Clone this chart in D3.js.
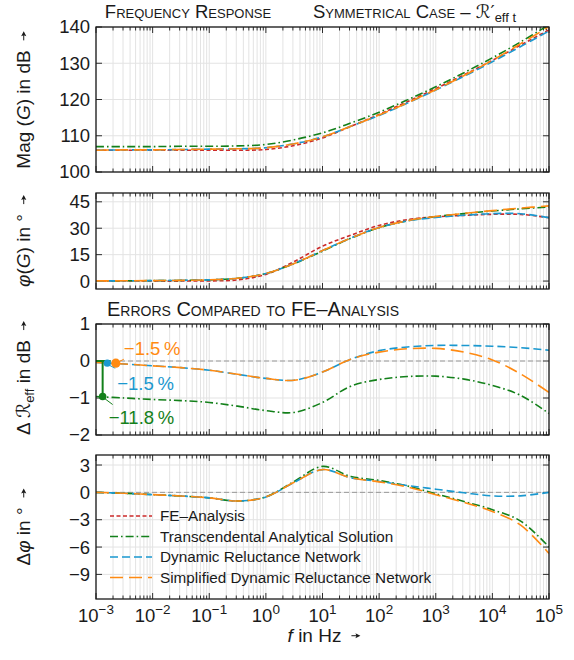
<!DOCTYPE html>
<html>
<head>
<meta charset="utf-8">
<script src="https://cdn.jsdelivr.net/npm/d3@7"></script>
<style>
  body { margin: 0; background: #fff; }
  svg { display: block; }
  text { font-family: "Liberation Sans", Arial, sans-serif; fill: #1a1a1a; }
  .sc { font-variant: small-caps; }
</style>
</head>
<body>
<div id="chart"></div>
<script>
// frequency grid, exponent of 10 (Hz)
var freqExp = [-3, -2.5, -2, -1.5, -1, -0.5, 0, 0.5, 1, 1.5, 2, 2.5, 3, 3.5, 4, 4.5, 5];

// magnitude in dB
var magFE   = [106.0, 106.0, 106.0, 106.0, 106.0, 106.0, 106.2, 107.3, 109.4, 112.6, 115.9, 119.4, 123.0, 126.8, 130.8, 135.0, 139.2];
var magTAS  = [107.0, 107.0, 107.0, 107.1, 107.1, 107.2, 107.6, 108.9, 110.8, 113.5, 116.5, 119.9, 123.5, 127.4, 131.5, 135.9, 140.6];
var magDRN  = [106.0, 106.1, 106.1, 106.2, 106.3, 106.4, 106.7, 107.8, 109.7, 112.6, 115.6, 119.0, 122.6, 126.4, 130.4, 134.6, 138.9];
var magSDRN = [106.0, 106.1, 106.1, 106.2, 106.3, 106.4, 106.7, 107.8, 109.7, 112.6, 115.7, 119.1, 122.7, 126.6, 130.8, 135.4, 140.1];

// phase in degree
var phFE   = [0.1, 0.05, 0.0, 0.0, 0.1, 0.65, 3.8, 11.1, 19.8, 26.05, 31.6, 34.9, 36.45, 37.3, 37.9, 37.85, 36.0];
var phTAS  = [0.1, 0.15, 0.25, 0.4, 0.7, 1.6, 4.3, 9.9, 17.0, 24.3, 30.3, 34.2, 36.6, 38.3, 39.8, 41.0, 42.0];
var phDRN  = [0.1, 0.15, 0.25, 0.4, 0.7, 1.6, 4.3, 10.0, 17.35, 24.45, 30.4, 34.15, 36.1, 37.35, 38.28, 38.23, 36.0];
var phSDRN = [0.1, 0.15, 0.25, 0.4, 0.7, 1.6, 4.3, 10.0, 17.35, 24.45, 30.45, 34.3, 36.7, 38.4, 40.0, 41.45, 42.7];

// error of effective reluctance in dB
var dRTAS  = [-0.96, -1.0, -1.04, -1.07, -1.12, -1.22, -1.34, -1.39, -1.12, -0.68, -0.5, -0.42, -0.41, -0.49, -0.66, -0.93, -1.42];
var dRDRN  = [-0.04, -0.08, -0.13, -0.18, -0.25, -0.36, -0.47, -0.52, -0.3, 0.05, 0.28, 0.38, 0.42, 0.42, 0.4, 0.36, 0.29];
var dRSDRN = [-0.04, -0.08, -0.13, -0.18, -0.25, -0.36, -0.47, -0.52, -0.3, 0.05, 0.24, 0.33, 0.34, 0.24, 0.03, -0.35, -0.85];

// phase error in degree
var dPhTAS  = [0, -0.1, -0.25, -0.4, -0.6, -0.95, -0.5, 1.2, 2.85, 1.75, 1.3, 0.7, -0.15, -1.0, -1.9, -3.15, -6.0];
var dPhDRN  = [0, -0.1, -0.25, -0.4, -0.6, -0.95, -0.5, 1.1, 2.5, 1.6, 1.2, 0.75, 0.35, -0.05, -0.38, -0.38, 0.0];
var dPhSDRN = [0, -0.1, -0.25, -0.4, -0.6, -0.95, -0.5, 1.1, 2.5, 1.6, 1.15, 0.6, -0.25, -1.1, -2.1, -3.6, -6.7];

// low frequency error markers: [frequency, error dB, label]
var errMarkTAS  = [1.31e-3, -0.96, "\u221211.8\u2009%"];
var errMarkDRN  = [1.58e-3, -0.06, "\u22121.5\u2009%"];
var errMarkSDRN = [2.24e-3, -0.06, "\u22121.5\u2009%"];

var seriesNames = ["FE\u2013Analysis", "Transcendental Analytical Solution", "Dynamic Reluctance Network", "Simplified Dynamic Reluctance Network"];
var xTickExp = [-3, -2, -1, 0, 1, 2, 3, 4, 5];

var styles = {
    FE:   { color: "#cc2a2a", dash: "4,2.5" },
    TAS:  { color: "#13801a", dash: "8,3,1.6,3" },
    DRN:  { color: "#1a98cf", dash: "8,4" },
    SDRN: { color: "#ff8a12", dash: "13,6" }
};

var W = 574, H = 660;
var left = 96, right = 549;

var svg = d3.select("#chart").append("svg")
    .attr("width", W).attr("height", H)
    .attr("viewBox", "0 0 " + W + " " + H);

var x = d3.scaleLog().domain([1e-3, 1e5]).range([left, right]);

var panels = [
    { top: 27,  bottom: 172, domain: [100, 140],   ticks: [100, 110, 120, 130, 140] },
    { top: 193, bottom: 289, domain: [-4.5, 50],   ticks: [0, 15, 30, 45] },
    { top: 324, bottom: 435, domain: [-2, 1],      ticks: [-2, -1, 0, 1] },
    { top: 455, bottom: 599, domain: [-11.7, 4.1], ticks: [-9, -6, -3, 0, 3] }
];

// all minor + major frequencies for grid and ticks
var allTicks = [];
for (var e = -3; e < 5; e++) {
    for (var m = 1; m < 10; m++) allTicks.push(m * Math.pow(10, e));
}
allTicks.push(1e5);

var defs = svg.append("defs");

function minusFmt(v) { return v < 0 ? "\u2212" + Math.abs(v) : String(v); }

function drawPanel(p, i) {
    var y = d3.scaleLinear().domain(p.domain).range([p.bottom, p.top]);
    p.y = y;
    var g = svg.append("g").attr("class", "panel-" + i);

    defs.append("clipPath").attr("id", "clip" + i)
        .append("rect").attr("x", left).attr("y", p.top)
        .attr("width", right - left).attr("height", p.bottom - p.top);

    // grid
    g.append("g").selectAll("line.vg").data(allTicks).enter().append("line")
        .attr("x1", function(d) { return x(d); }).attr("x2", function(d) { return x(d); })
        .attr("y1", p.top).attr("y2", p.bottom)
        .attr("stroke", "#e3e3e3").attr("stroke-width", 1);
    g.append("g").selectAll("line.hg").data(p.ticks).enter().append("line")
        .attr("x1", left).attr("x2", right)
        .attr("y1", function(d) { return y(d); }).attr("y2", function(d) { return y(d); })
        .attr("stroke", "#e3e3e3").attr("stroke-width", 1);

    // x ticks, inside, top and bottom
    var tk = g.append("g").attr("stroke", "#1a1a1a").attr("stroke-width", 0.9);
    allTicks.forEach(function(d) {
        var major = Math.abs(Math.log10(d) - Math.round(Math.log10(d))) < 1e-9;
        var len = major ? 6 : 3.5;
        tk.append("line").attr("x1", x(d)).attr("x2", x(d)).attr("y1", p.bottom).attr("y2", p.bottom - len);
        tk.append("line").attr("x1", x(d)).attr("x2", x(d)).attr("y1", p.top).attr("y2", p.top + len);
    });
    p.ticks.forEach(function(d) {
        tk.append("line").attr("x1", left).attr("x2", left + 6).attr("y1", y(d)).attr("y2", y(d));
        tk.append("line").attr("x1", right).attr("x2", right - 6).attr("y1", y(d)).attr("y2", y(d));
    });

    // y tick labels
    g.append("g").selectAll("text").data(p.ticks).enter().append("text")
        .attr("x", left - 6).attr("y", function(d) { return y(d); })
        .attr("dy", "0.35em").attr("text-anchor", "end")
        .style("font-size", "18.5px")
        .text(minusFmt);

    p.g = g;
    p.plot = g.append("g").attr("clip-path", "url(#clip" + i + ")");
    return p;
}

panels.forEach(drawPanel);

function addCurve(p, values, st) {
    var pts = freqExp.map(function(e, k) { return [Math.pow(10, e), values[k]]; });
    var line = d3.line()
        .x(function(d) { return x(d[0]); })
        .y(function(d) { return p.y(d[1]); })
        .curve(d3.curveCatmullRom.alpha(0.5));
    p.plot.append("path").datum(pts)
        .attr("d", line)
        .attr("fill", "none")
        .attr("stroke", st.color)
        .attr("stroke-width", 1.6)
        .attr("stroke-dasharray", st.dash);
}

function zeroLine(p) {
    p.plot.append("line")
        .attr("x1", left).attr("x2", right)
        .attr("y1", p.y(0)).attr("y2", p.y(0))
        .attr("stroke", "#9a9a9a").attr("stroke-width", 1)
        .attr("stroke-dasharray", "5,3");
}

// panel 1: magnitude
addCurve(panels[0], magFE, styles.FE);
addCurve(panels[0], magTAS, styles.TAS);
addCurve(panels[0], magDRN, styles.DRN);
addCurve(panels[0], magSDRN, styles.SDRN);

// panel 2: phase
addCurve(panels[1], phFE, styles.FE);
addCurve(panels[1], phTAS, styles.TAS);
addCurve(panels[1], phDRN, styles.DRN);
addCurve(panels[1], phSDRN, styles.SDRN);

// panel 3: reluctance error
zeroLine(panels[2]);
addCurve(panels[2], dRTAS, styles.TAS);
addCurve(panels[2], dRDRN, styles.DRN);
addCurve(panels[2], dRSDRN, styles.SDRN);

// panel 4: phase error
zeroLine(panels[3]);
addCurve(panels[3], dPhTAS, styles.TAS);
addCurve(panels[3], dPhDRN, styles.DRN);
addCurve(panels[3], dPhSDRN, styles.SDRN);

// error markers in panel 3
(function() {
    var p = panels[2], y = p.y;
    var a = p.g.append("g");
    var gx = x(errMarkTAS[0]);
    a.append("line").attr("x1", left).attr("x2", gx + 8).attr("y1", y(0)).attr("y2", y(0))
        .attr("stroke", styles.TAS.color).attr("stroke-width", 2);
    a.append("line").attr("x1", gx).attr("x2", gx).attr("y1", y(0)).attr("y2", y(errMarkTAS[1]))
        .attr("stroke", styles.TAS.color).attr("stroke-width", 2);

    // [marker, style, radius, leader dx, leader dy, label dx, label dy]
    var marks = [[errMarkTAS, styles.TAS, 3.8, 8, 8, 4, 21],
                 [errMarkDRN, styles.DRN, 3.6, 6, 5, 8, 20],
                 [errMarkSDRN, styles.SDRN, 4.6, 6, -4, 6, -15]];
    marks.forEach(function(m) {
        var d = m[0], st = m[1];
        var cx = x(d[0]), cy = y(d[1]);
        a.append("line").attr("x1", cx + 2).attr("y1", cy + (m[4] > 0 ? 2 : -1))
            .attr("x2", cx + m[3] + 2).attr("y2", cy + m[4])
            .attr("stroke", st.color).attr("stroke-width", 1);
        a.append("circle").attr("cx", cx).attr("cy", cy).attr("r", m[2]).attr("fill", st.color);
        a.append("text").attr("x", cx + m[5] + 2).attr("y", cy + m[6]).attr("dy", "0.35em")
            .style("font-size", "18.5px").style("fill", st.color).text(d[2]);
    });
})();

// legend in panel 4
(function() {
    var p = panels[3];
    var keys = ["FE", "TAS", "DRN", "SDRN"];
    var lg = p.g.append("g");
    keys.forEach(function(k, i) {
        var ly = 516 + i * 20.5;
        lg.append("line").attr("x1", 110).attr("x2", 152).attr("y1", ly).attr("y2", ly)
            .attr("stroke", styles[k].color).attr("stroke-width", 1.6)
            .attr("stroke-dasharray", styles[k].dash);
        lg.append("text").attr("x", 160).attr("y", ly).attr("dy", "0.35em")
            .style("font-size", "15.3px").text(seriesNames[i]);
    });
})();

// frames
panels.forEach(function(p) {
    svg.append("rect").attr("x", left).attr("y", p.top)
        .attr("width", right - left).attr("height", p.bottom - p.top)
        .attr("fill", "none").attr("stroke", "#1a1a1a").attr("stroke-width", 1.3);
});

// x tick labels
var xl = svg.append("g").selectAll("text").data(xTickExp).enter().append("text")
    .attr("x", function(d) { return x(Math.pow(10, d)); })
    .attr("y", 622)
    .attr("text-anchor", "middle")
    .style("font-size", "18.5px");
xl.append("tspan").text("10");
xl.append("tspan").attr("dy", -8).style("font-size", "13.5px").text(function(d) { return minusFmt(d); });

// labels with arrows
function arrow(g, x0, y0, len) {
    g.append("line").attr("x1", x0).attr("x2", x0 + len - 3).attr("y1", y0).attr("y2", y0)
        .attr("stroke", "#1a1a1a").attr("stroke-width", 1);
    g.append("path")
        .attr("d", "M" + (x0 + len) + "," + y0 + " L" + (x0 + len - 5) + "," + (y0 - 2.6) +
                   " L" + (x0 + len - 4) + "," + y0 + " L" + (x0 + len - 5) + "," + (y0 + 2.6) + "Z")
        .attr("fill", "#1a1a1a");
}

function axisLabel(cx, cy, rotate, parts, size) {
    var g = svg.append("g").attr("transform", "translate(" + cx + "," + cy + ")" + (rotate ? " rotate(-90)" : ""));
    var t = g.append("text").attr("x", 0).attr("y", 0).style("font-size", size + "px");
    parts.forEach(function(pt) {
        var s = t.append("tspan").text(pt.t);
        if (pt.it) s.style("font-style", "italic");
        if (pt.dy) s.attr("dy", pt.dy);
        if (pt.fs) s.style("font-size", pt.fs + "px");
        if (pt.dx) s.attr("dx", pt.dx);
        if (pt.ff) s.style("font-family", pt.ff);
    });
    var L = t.node().getComputedTextLength();
    var total = L + 10 + 9;
    t.attr("x", -total / 2);
    arrow(g, -total / 2 + L + 10, -size * 0.33, 9);
    return g;
}

axisLabel(30, 100, true, [{ t: "Mag" }, { t: " (" }, { t: "G", it: true }, { t: ")" }, { t: " in dB" }], 19);
axisLabel(30, 241, true, [{ t: "\u03c6", it: true }, { t: "(" }, { t: "G", it: true }, { t: ")" }, { t: " in \u00b0" }], 19);
axisLabel(30, 378, true, [{ t: "\u0394 " }, { t: "\u211b", ff: "DejaVu Sans" }, { t: "eff", dy: 4, fs: 13 }, { t: " in dB", dy: -4 }], 19);
axisLabel(30, 527, true, [{ t: "\u0394" }, { t: "\u03c6", it: true }, { t: " in \u00b0" }], 19);
axisLabel(324, 642, false, [{ t: "f", it: true }, { t: " in Hz" }], 19);

// titles
svg.append("text").attr("class", "sc").attr("x", 188).attr("y", 18).attr("text-anchor", "middle")
    .style("font-size", "18.5px").text("Frequency Response");
var t2 = svg.append("text").attr("class", "sc").attr("x", 313).attr("y", 18)
    .style("font-size", "18.5px");
t2.append("tspan").text("Symmetrical Case \u2013 ");
t2.append("tspan").style("font-family", "DejaVu Sans").style("font-variant", "normal").text("\u211b\u2032");
t2.append("tspan").attr("dy", 4).style("font-size", "13px").style("font-variant", "normal").text("eff t");

svg.append("text").attr("class", "sc").attr("x", 253).attr("y", 316).attr("text-anchor", "middle")
    .style("font-size", "20px").text("Errors Compared to FE\u2013Analysis");
</script>
</body>
</html>
